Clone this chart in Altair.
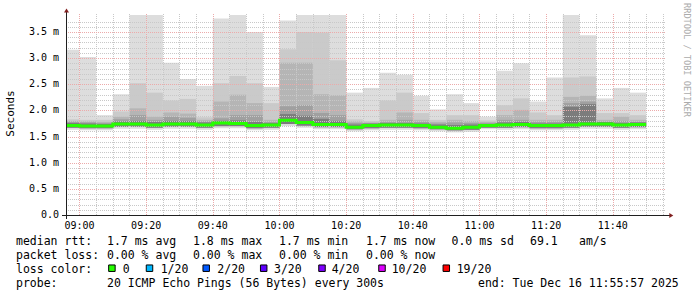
import altair as alt
import pandas as pd

# ---------------- data ----------------
bar_start = ["08:55", "09:00", "09:05", "09:10", "09:15", "09:20", "09:25", "09:30", "09:35",
             "09:40", "09:45", "09:50", "09:55", "10:00", "10:05", "10:10", "10:15", "10:20",
             "10:25", "10:30", "10:35", "10:40", "10:45", "10:50", "10:55", "11:00", "11:05",
             "11:10", "11:15", "11:20", "11:25", "11:30", "11:35", "11:40", "11:45"]
bar_minutes = 5

# smoke band tops (ms), outermost -> innermost
smoke_top = [3.16, 3.02, 1.91, 2.31, 4.20, 4.20, 2.91, 2.60, 2.47, 3.76, 4.20, 3.50, 2.45, 3.72,
             4.20, 4.20, 4.20, 2.34, 2.43, 2.72, 2.68, 2.28, 2.02, 2.31, 2.14, 1.88, 2.76, 2.90,
             2.17, 2.63, 4.20, 3.44, 2.23, 2.43, 2.34]
smoke_band2 = [1.83, 1.82, 1.82, 1.98, 2.52, 2.34, 2.19, 2.22, 1.87, 2.52, 2.66, 2.52, 2.14, 3.17,
               3.50, 3.49, 2.96, 1.83, 1.80, 2.19, 2.34, 1.95, 1.82, 1.91, 1.91, 1.81, 2.10, 2.23,
               1.96, 1.91, 2.63, 2.65, 1.95, 1.95, 1.91]
smoke_band3 = [1.80, 1.79, 1.78, 1.88, 2.04, 1.88, 1.96, 1.94, 1.82, 2.17, 2.30, 2.14, 1.82, 2.91,
               2.91, 2.31, 2.29, 1.79, 1.77, 1.82, 1.96, 1.82, 1.78, 1.82, 1.80, 1.78, 1.91, 2.01,
               1.82, 1.82, 2.26, 2.28, 1.82, 1.88, 1.82]
smoke_band4 = [1.78, 1.77, 1.76, 1.83, 1.91, 1.82, 1.88, 1.86, 1.79, 1.85, 1.91, 1.91, 1.78, 2.08,
               2.10, 1.95, 1.91, 1.76, 1.75, 1.78, 1.82, 1.78, 1.75, 1.77, 1.76, 1.76, 1.82, 1.82,
               1.78, 1.78, 2.14, 2.17, 1.78, 1.80, 1.78]
smoke_band5 = [1.76, 1.75, 1.74, 1.79, 1.80, 1.78, 1.80, 1.80, 1.77, 1.80, 1.81, 1.78, 1.76, 1.93,
               1.90, 1.84, 1.80, 1.73, 1.75, 1.76, 1.76, 1.75, 1.73, 1.72, 1.73, 1.74, 1.77, 1.78,
               1.75, 1.75, 2.07, 2.12, 1.78, 1.76, 1.77]
smoke_low1 = [1.63, 1.62, 1.62, 1.65, 1.65, 1.63, 1.65, 1.65, 1.63, 1.66, 1.66, 1.62, 1.63, 1.70,
              1.67, 1.64, 1.64, 1.60, 1.62, 1.63, 1.63, 1.62, 1.60, 1.58, 1.59, 1.64, 1.63, 1.64,
              1.62, 1.62, 1.63, 1.65, 1.65, 1.63, 1.64]
smoke_low2 = [1.67, 1.66, 1.66, 1.69, 1.69, 1.67, 1.69, 1.69, 1.67, 1.70, 1.70, 1.66, 1.67, 1.74,
              1.71, 1.68, 1.68, 1.64, 1.66, 1.67, 1.67, 1.66, 1.64, 1.62, 1.63, 1.67, 1.67, 1.68,
              1.66, 1.66, 1.67, 1.69, 1.69, 1.67, 1.68]
median_rtt = [1.71, 1.70, 1.70, 1.74, 1.74, 1.72, 1.74, 1.74, 1.72, 1.76, 1.75, 1.71, 1.72, 1.81,
              1.77, 1.73, 1.73, 1.68, 1.71, 1.72, 1.72, 1.71, 1.68, 1.66, 1.68, 1.71, 1.72, 1.73,
              1.71, 1.71, 1.72, 1.74, 1.74, 1.72, 1.73]
loss_per_bar = ["0", "0", "0", "0", "0", "0", "0", "0", "0", "0", "0", "0", "0", "0", "0", "0", "0",
                "0", "0", "0", "0", "0", "0", "0", "0", "0", "0", "0", "0", "0", "0", "0", "0", "0", "0"]

loss_levels = ["0", "1/20", "2/20", "3/20", "4/20", "10/20", "19/20"]
loss_colors = ["#26ff00", "#00b8ff", "#0059ff", "#5e00ff", "#7e00ff", "#dd00ff", "#ff0000"]

x_tick_labels = ["09:00", "09:20", "09:40", "10:00", "10:20", "10:40", "11:00", "11:20", "11:40"]
y_tick_values = [0.0, 0.5, 1.0, 1.5, 2.0, 2.5, 3.0, 3.5]
y_tick_labels = ["0.0\u00a0\u00a0", "0.5 m", "1.0 m", "1.5 m", "2.0 m", "2.5 m", "3.0 m", "3.5 m"]

legend_rtt = ["median rtt:", "1.7 ms avg", "1.8 ms max", "1.7 ms min", "1.7 ms now",
              "0.0 ms sd", "69.1", "am/s"]
legend_loss = ["packet loss:", "0.00 % avg", "0.00 % max", "0.00 % min", "0.00 % now"]
legend_color_title = "loss color:"
legend_probe = ["probe:", "20 ICMP Echo Pings (56 Bytes) every 300s", "end: Tue Dec 16 11:55:57 2025"]
y_title = "Seconds"
watermark = "RRDTOOL / TOBI OETIKER"

# ---------------- layout ----------------
W, H = 600, 200
X_DOMAIN = [-4.05, 175.95]      # minutes after 09:00
Y_DOMAIN = [0, 3.825]
MONO = "DejaVu Sans Mono"
KX = W / (X_DOMAIN[1] - X_DOMAIN[0])
KY = H / (Y_DOMAIN[1] - Y_DOMAIN[0])


def to_min(s):
    h, m = s.split(":")
    return int(h) * 60 + int(m) - 540


def snap_x(m):
    # place a grid line on a pixel centre, as rrdtool does
    px = (m - X_DOMAIN[0]) * KX
    return (round(px - 0.01) + 0.5) / KX + X_DOMAIN[0]


def snap_y(v):
    px = H - (v - Y_DOMAIN[0]) * KY
    return (H - (round(px - 0.01) + 0.5)) / KY + Y_DOMAIN[0]


xs = alt.Scale(domain=X_DOMAIN, nice=False, zero=False)
ys = alt.Scale(domain=Y_DOMAIN, nice=False, zero=False)

starts = [to_min(s) for s in bar_start]
ends = [t + bar_minutes for t in starts]

bands = [
    ("#dddddd", smoke_low1, smoke_top),
    ("#cacaca", smoke_low2, smoke_band2),
    ("#b5b5b5", smoke_low2, smoke_band3),
    ("#a0a0a0", smoke_low2, smoke_band4),
    ("#7c7c7c", smoke_low2, smoke_band5),
]

x_tick_values = [to_min(s) for s in x_tick_labels]

# grid lines
minor_x = [snap_x(m) for m in range(5, 180, 5) if m % 20 != 0]
major_x = [snap_x(m) for m in x_tick_values]
minor_y = [snap_y(round(v * 0.1, 1)) for v in range(1, 38) if v % 5 != 0]
major_y = [snap_y(v) for v in y_tick_values if v > 0]

layers = []
for color, lo, hi in bands:
    df = pd.DataFrame({"t0": starts, "t1": ends, "lo": lo, "hi": hi})
    layers.append(
        alt.Chart(df).mark_rect(color=color, clip=True).encode(
            x=alt.X("t0:Q", scale=xs, axis=None),
            x2="t1:Q",
            y=alt.Y("lo:Q", scale=ys, axis=None),
            y2="hi:Q",
        )
    )

GRID_MINOR = "#c8c8c8"
GRID_MAJOR = "#ecaaaa"


def vgrid(vals, color):
    return alt.Chart(pd.DataFrame({"gx": vals})).mark_rule(
        color=color, strokeDash=[1, 1], strokeWidth=1).encode(
        x=alt.X("gx:Q", scale=xs, axis=None),
        y=alt.value(-1), y2=alt.value(H))


def hgrid(vals, color):
    return alt.Chart(pd.DataFrame({"gy": vals})).mark_rule(
        color=color, strokeDash=[1, 1], strokeWidth=1).encode(
        y=alt.Y("gy:Q", scale=ys, axis=None),
        x=alt.value(0), x2=alt.value(W))


layers += [vgrid(minor_x, GRID_MINOR), hgrid(minor_y, GRID_MINOR),
           vgrid(major_x, GRID_MAJOR), hgrid(major_y, GRID_MAJOR)]

# median line, coloured by loss
med_df = pd.DataFrame({"t": starts + [ends[-1]],
                       "med": median_rtt + [median_rtt[-1]],
                       "loss": loss_per_bar + [loss_per_bar[-1]]})
layers.append(
    alt.Chart(med_df).mark_line(interpolate="step-after", strokeWidth=3, clip=True).encode(
        x=alt.X("t:Q", scale=xs, axis=None),
        y=alt.Y("med:Q", scale=ys, axis=None),
        color=alt.Color("loss:N", scale=alt.Scale(domain=loss_levels, range=loss_colors), legend=None),
    )
)

# tick labels
ylab = pd.DataFrame({"v": y_tick_values, "lab": y_tick_labels})
layers.append(alt.Chart(ylab).mark_text(align="right", baseline="middle", font=MONO, fontSize=10,
                                        color="black").encode(
    y=alt.Y("v:Q", scale=ys, axis=None), x=alt.value(-7), text="lab:N"))
xlab = pd.DataFrame({"m": x_tick_values, "lab": x_tick_labels})
layers.append(alt.Chart(xlab).mark_text(align="center", baseline="top", font=MONO, fontSize=10,
                                        color="black").encode(
    x=alt.X("m:Q", scale=xs, axis=None), y=alt.value(H + 6), text="lab:N"))

one = pd.DataFrame({"a": [0]})
AX = "#1f1f1f"
ARROW = "#801f1f"
# axis lines
layers.append(alt.Chart(one).mark_rule(color=AX, strokeWidth=1).encode(
    x=alt.value(-4), x2=alt.value(604), y=alt.value(H + 0.5)))
layers.append(alt.Chart(one).mark_rule(color=AX, strokeWidth=1).encode(
    x=alt.value(0.5), y=alt.value(-3), y2=alt.value(H + 4)))
# arrows
layers.append(alt.Chart(one).mark_point(shape="M-1,0.8L1,0.8L0,-0.8Z", filled=True, size=25,
                                        color=ARROW, opacity=1).encode(
    x=alt.value(0.5), y=alt.value(-4.5)))
layers.append(alt.Chart(one).mark_point(shape="M-0.8,-1L0.8,0L-0.8,1Z", filled=True, size=25,
                                        color=ARROW, opacity=1).encode(
    x=alt.value(605.3), y=alt.value(H + 0.5)))


def text(s, x, y, size=11.5, color="black", angle=0, align="left", baseline="alphabetic", font=MONO):
    kw = dict(align=align, baseline=baseline, font=font, fontSize=size, color=color)
    if angle:
        kw["angle"] = angle
    return alt.Chart(pd.DataFrame({"t": [s]})).mark_text(**kw).encode(
        x=alt.value(x), y=alt.value(y), text="t:N")


layers.append(text(y_title, -55, 98.5, size=11, angle=270, align="center", baseline="middle"))
layers.append(text(watermark, 621, 45, size=8.6, color="#ababab", angle=90, align="center",
                   baseline="middle"))

row_y = [230, 244, 258, 272]
col_x = [-50, 41, 127, 213, 300, 385.5, 464, 513]
for s, x in zip(legend_rtt, col_x):
    layers.append(text(s, x, row_y[0]))
for s, x in zip(legend_loss, col_x):
    layers.append(text(s, x, row_y[1]))
layers.append(text(legend_color_title, col_x[0], row_y[2]))
square_x = [45.9, 83.5, 140.2, 197.7, 256, 316, 380.3]
label_x = [56.7, 94.7, 151.3, 208, 265.7, 325.7, 390.7]
for lvl, c, sx, lx in zip(loss_levels, loss_colors, square_x, label_x):
    layers.append(alt.Chart(one).mark_point(shape="square", filled=True, size=42, fill=c,
                                            stroke="black", strokeWidth=1, opacity=1).encode(
        x=alt.value(sx), y=alt.value(253.2)))
    layers.append(text(lvl, lx, row_y[2]))
for s, x in zip(legend_probe, [-50, 41, 412]):
    layers.append(text(s, x, row_y[3]))

chart = alt.layer(*layers).properties(
    width=W, height=H,
    autosize=alt.AutoSizeParams(type="none"),
    padding={"left": 66, "top": 15, "right": 31, "bottom": 82},
    background="white",
).configure_view(stroke=None)

chart.save("out.html", embed_options={"renderer": "svg", "actions": False})
